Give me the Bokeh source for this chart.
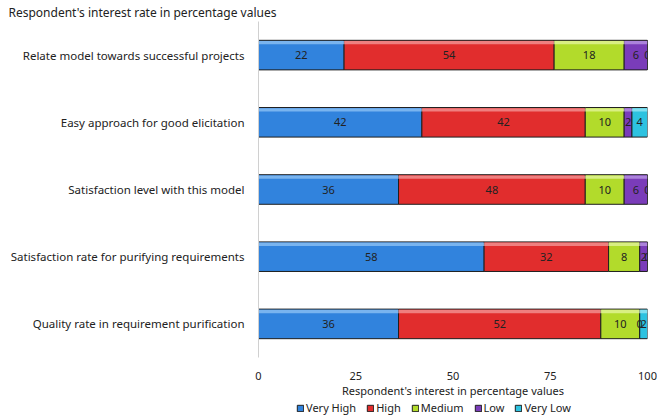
from bokeh.plotting import figure
from bokeh.layouts import column
from bokeh.models import (ColumnDataSource, FixedTicker, Legend, LegendItem,
                          Title, Range1d, FactorRange)
from bokeh.transform import dodge
from bokeh.embed import file_html
from bokeh.resources import INLINE
from bokeh.core.properties import value

# Survey items (top to bottom) and the share of each answer level, in %
items = [
    "Relate model towards successful projects",
    "Easy approach for good elicitation",
    "Satisfaction level with this model",
    "Satisfaction rate for purifying requirements",
    "Quality rate in requirement purification",
]
levels = ["Very High", "High", "Medium", "Low", "Very Low"]
very_high = [22, 42, 36, 58, 36]
high = [54, 42, 48, 32, 52]
medium = [18, 10, 10, 8, 10]
low = [6, 2, 6, 2, 0]
very_low = [0, 4, 0, 0, 2]
x_ticks = [0, 25, 50, 75, 100]

colors = ["#3183DD", "#E12D2D", "#B2DB2B", "#7A3CB9", "#2DC2E0"]
highlights = ["#8CC0F4", "#F29494", "#E2F49A", "#B894E4", "#96E6F4"]
FONT = "Noto Sans"

series = [very_high, high, medium, low, very_low]
data = {"item": items}
for name, vals in zip(levels, series):
    data[name] = vals
source = ColumnDataSource(data)

p = figure(width=657, height=400, output_backend="svg", toolbar_location=None,
           y_range=FactorRange(factors=items[::-1], range_padding=0),
           x_range=Range1d(0, 100),
           min_border_left=258, min_border_right=10, min_border_top=0,
           min_border_bottom=41)
p.title = Title(text="Respondent's interest rate in percentage values",
                text_font=FONT, text_font_size="12px", text_font_style="normal",
                text_color="#222222", align="left", offset=-250, standoff=2)

bars = p.hbar_stack(levels, y="item", height=0.44, source=source,
                    fill_color=colors, line_color="#1e1e1e", line_width=1)

# segment geometry for the bevel strip and value labels
starts = [[0] * len(items)]
for vals in series[:-1]:
    starts.append([s + v for s, v in zip(starts[-1], vals)])

for k, vals in enumerate(series):
    lefts = starts[k]
    rights = [l + v for l, v in zip(lefts, vals)]
    centers = [(l + r) / 2 for l, r in zip(lefts, rights)]
    seg = ColumnDataSource(dict(item=items, left=lefts, right=rights,
                                mid=centers, label=[str(v) for v in vals]))
    p.hbar(y=dodge("item", 0.185, range=p.y_range), left="left", right="right",
           height=0.05, source=seg, fill_color=highlights[k], fill_alpha=0.8,
           line_color=None)
    p.text(x="mid", y="item", text="label", source=seg,
           text_font=value(FONT), text_font_size="11px", text_color="#222222",
           text_align="center", text_baseline="middle")

p.xaxis.ticker = FixedTicker(ticks=x_ticks)
p.xaxis.axis_label = "Respondent's interest in percentage values"
p.xaxis.axis_label_text_font = FONT
p.xaxis.axis_label_text_font_size = "11px"
p.xaxis.axis_label_text_font_style = "normal"
p.xaxis.axis_label_text_color = "#222222"
p.xaxis.axis_label_standoff = 0
p.xaxis.major_label_text_font = FONT
p.xaxis.major_label_text_font_size = "11px"
p.xaxis.major_label_text_color = "#222222"
p.xaxis.major_label_standoff = 8
p.xaxis.axis_line_color = None
p.xaxis.major_tick_line_color = None
p.xaxis.minor_tick_line_color = None

p.yaxis.major_label_text_font = FONT
p.yaxis.major_label_text_font_size = "11.5px"
p.yaxis.major_label_text_color = "#222222"
p.yaxis.major_label_standoff = 8
p.yaxis.axis_line_color = "#d0d0d0"
p.yaxis.major_tick_line_color = None
p.yaxis.minor_tick_line_color = None

p.grid.grid_line_color = None
p.outline_line_color = None

# legend strip underneath the chart (its frame lines up with the chart's)
leg_fig = figure(width=657, height=16, output_backend="svg", toolbar_location=None,
                 x_axis_type=None, y_axis_type=None, min_border=0,
                 x_range=Range1d(0, 1), y_range=Range1d(0, 1))
leg_fig.grid.grid_line_color = None
leg_fig.outline_line_color = None
swatches = [leg_fig.rect(x=[0.5], y=[0.5], width=0, height=0, fill_color=c,
                         line_color="#1e1e1e", visible=True) for c in colors]
legend = Legend(items=[LegendItem(label=n, renderers=[r]) for n, r in zip(levels, swatches)],
                orientation="horizontal", location=(38, 1),
                label_text_font=FONT, label_text_font_size="11px",
                label_text_color="#222222", glyph_width=8, glyph_height=8,
                label_standoff=2, spacing=10, padding=0, margin=0,
                border_line_color=None, background_fill_alpha=0)
leg_fig.add_layout(legend, "center")

layout = column(p, leg_fig, spacing=0)
open("out.html", "w").write(file_html(layout, INLINE))
